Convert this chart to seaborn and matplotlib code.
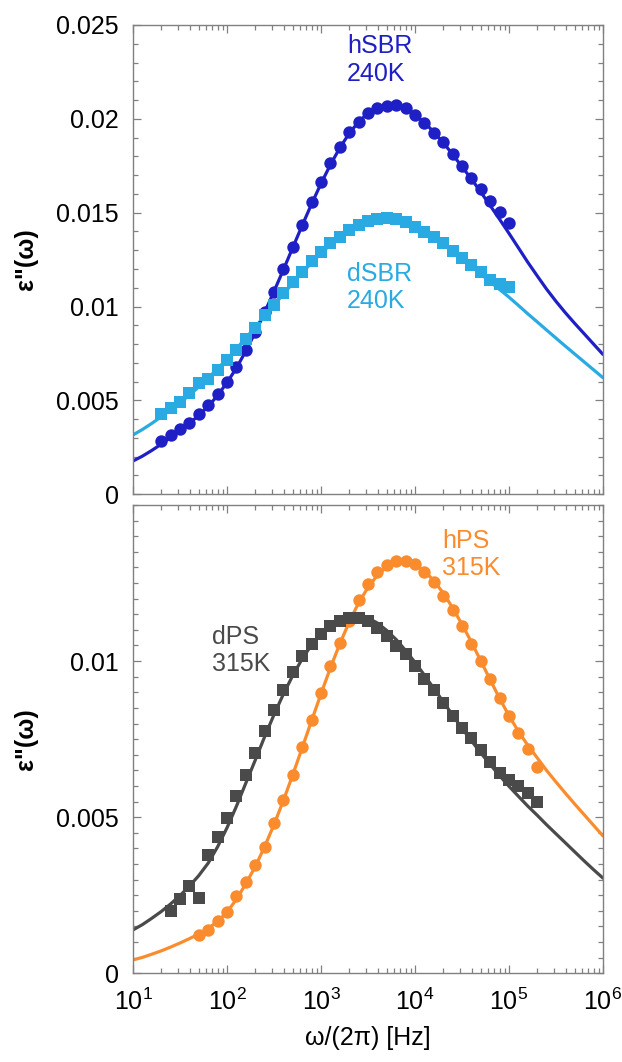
import numpy as np
import pandas as pd
import matplotlib
matplotlib.use("Agg")
import matplotlib.pyplot as plt
import seaborn as sns
from matplotlib.ticker import FixedLocator, LogLocator, NullFormatter, MultipleLocator, LogFormatterSciNotation

# ---------------- data ----------------
freq_fit = [10, 12.6, 15.8, 20.0, 25.1, 31.6, 39.8, 50.1, 63.1, 79.4,
            100, 126, 158, 200, 251, 316, 398, 501, 631, 794,
            1000, 1259, 1585, 1995, 2512, 3162, 3981, 5012, 6310, 7943,
            1.0e4, 1.26e4, 1.58e4, 2.0e4, 2.51e4, 3.16e4, 3.98e4, 5.01e4, 6.31e4, 7.94e4,
            1.0e5, 1.26e5, 1.58e5, 2.0e5, 2.51e5, 3.16e5, 3.98e5, 5.01e5, 6.31e5, 7.94e5,
            1.0e6]

freq_sbr = [20.0, 25.1, 31.6, 39.8, 50.1, 63.1, 79.4,
            100, 126, 158, 200, 251, 316, 398, 501, 631, 794,
            1000, 1259, 1585, 1995, 2512, 3162, 3981, 5012, 6310, 7943,
            1.0e4, 1.26e4, 1.58e4, 2.0e4, 2.51e4, 3.16e4, 3.98e4, 5.01e4, 6.31e4, 7.94e4,
            1.0e5]

hsbr_eps = [0.00286, 0.00316, 0.00345, 0.00382, 0.00426, 0.00476, 0.00533, 0.00600, 0.00678, 0.00769,
            0.00867, 0.00973, 0.01080, 0.01199, 0.01319, 0.01435, 0.01556, 0.01664, 0.01767, 0.01852,
            0.01929, 0.01985, 0.02030, 0.02056, 0.02069, 0.02073, 0.02056, 0.02021, 0.01977, 0.01927,
            0.01874, 0.01813, 0.01751, 0.01687, 0.01625, 0.01563, 0.01506, 0.01447]

dsbr_eps = [0.00426, 0.00458, 0.00494, 0.00538, 0.00594, 0.00614, 0.00662, 0.00716, 0.00769, 0.00826,
            0.00884, 0.00955, 0.01009, 0.01071, 0.01133, 0.01186, 0.01245, 0.01293, 0.01337, 0.01373,
            0.01408, 0.01435, 0.01453, 0.01467, 0.01470, 0.01467, 0.01449, 0.01426, 0.01399, 0.01369,
            0.01337, 0.01298, 0.01257, 0.01222, 0.01186, 0.01142, 0.01121, 0.01103]

hsbr_fit = [0.00177, 0.00203, 0.00233, 0.00267, 0.00302, 0.00339, 0.00378, 0.00420, 0.00468, 0.00526,
            0.00595, 0.00672, 0.00762, 0.00862, 0.00968, 0.01080, 0.01196, 0.01314, 0.01432, 0.01546,
            0.01655, 0.01755, 0.01845, 0.01922, 0.01984, 0.02030, 0.02060, 0.02073, 0.02070, 0.02052,
            0.02022, 0.01981, 0.01930, 0.01873, 0.01811, 0.01745, 0.01680, 0.01610, 0.01538, 0.01465,
            0.01390, 0.01313, 0.01237, 0.01163, 0.01093, 0.01028, 0.00967, 0.00910, 0.00855, 0.00800,
            0.00745]

dsbr_fit = [0.00316, 0.00345, 0.00377, 0.00413, 0.00449, 0.00487, 0.00528, 0.00572, 0.00619, 0.00669,
            0.00720, 0.00775, 0.00832, 0.00890, 0.00950, 0.01008, 0.01066, 0.01124, 0.01180, 0.01233,
            0.01283, 0.01329, 0.01370, 0.01405, 0.01433, 0.01453, 0.01465, 0.01469, 0.01465, 0.01453,
            0.01433, 0.01406, 0.01374, 0.01338, 0.01298, 0.01256, 0.01214, 0.01173, 0.01132, 0.01091,
            0.01050, 0.01006, 0.00962, 0.00918, 0.00875, 0.00832, 0.00789, 0.00747, 0.00705, 0.00663,
            0.00621]

freq_hps = [50.1, 63.1, 79.4,
            100, 126, 158, 200, 251, 316, 398, 501, 631, 794,
            1000, 1259, 1585, 1995, 2512, 3162, 3981, 5012, 6310, 7943,
            1.0e4, 1.26e4, 1.58e4, 2.0e4, 2.51e4, 3.16e4, 3.98e4, 5.01e4, 6.31e4, 7.94e4,
            1.0e5, 1.26e5, 1.58e5, 2.0e5]

hps_eps = [0.00123, 0.00139, 0.00169, 0.00198, 0.00248, 0.00294, 0.00347, 0.00406, 0.00481, 0.00556,
           0.00636, 0.00726, 0.00812, 0.00897, 0.00983, 0.01058, 0.01127, 0.01197, 0.01248, 0.01284,
           0.01309, 0.01322, 0.01319, 0.01311, 0.01284, 0.01252, 0.01209, 0.01165, 0.01111, 0.01056,
           0.00999, 0.00942, 0.00881, 0.00825, 0.00769, 0.00718, 0.00662]

freq_dps = [25.1, 31.6, 39.8, 50.1, 63.1, 79.4,
            100, 126, 158, 200, 251, 316, 398, 501, 631, 794,
            1000, 1259, 1585, 1995, 2512, 3162, 3981, 5012, 6310, 7943,
            1.0e4, 1.26e4, 1.58e4, 2.0e4, 2.51e4, 3.16e4, 3.98e4, 5.01e4, 6.31e4, 7.94e4,
            1.0e5, 1.26e5, 1.58e5, 2.0e5]

dps_eps = [0.00201, 0.00237, 0.00280, 0.00240, 0.00379, 0.00436, 0.00499, 0.00568, 0.00636, 0.00705,
           0.00775, 0.00842, 0.00906, 0.00964, 0.01017, 0.01056, 0.01088, 0.01113, 0.01130, 0.01138,
           0.01138, 0.01130, 0.01106, 0.01081, 0.01049, 0.01022, 0.00983, 0.00942, 0.00908, 0.00865,
           0.00825, 0.00785, 0.00753, 0.00716, 0.00678, 0.00641, 0.00620, 0.00600, 0.00577, 0.00550]

hps_fit = [0.00043, 0.00051, 0.00061, 0.00072, 0.00084, 0.00097, 0.00111, 0.00126, 0.00144, 0.00166,
           0.00196, 0.00237, 0.00286, 0.00342, 0.00405, 0.00476, 0.00553, 0.00636, 0.00722, 0.00809,
           0.00895, 0.00978, 0.01055, 0.01125, 0.01186, 0.01236, 0.01275, 0.01302, 0.01317, 0.01320,
           0.01310, 0.01289, 0.01258, 0.01218, 0.01171, 0.01118, 0.01061, 0.01001, 0.00940, 0.00881,
           0.00825, 0.00775, 0.00731, 0.00690, 0.00650, 0.00613, 0.00577, 0.00542, 0.00508, 0.00474,
           0.00440]

dps_fit = [0.00139, 0.00156, 0.00176, 0.00198, 0.00222, 0.00249, 0.00279, 0.00313, 0.00353, 0.00405,
           0.00466, 0.00535, 0.00608, 0.00683, 0.00757, 0.00828, 0.00894, 0.00954, 0.01007, 0.01052,
           0.01088, 0.01115, 0.01134, 0.01144, 0.01146, 0.01138, 0.01122, 0.01098, 0.01069, 0.01034,
           0.00996, 0.00955, 0.00913, 0.00870, 0.00827, 0.00785, 0.00745, 0.00706, 0.00669, 0.00633,
           0.00599, 0.00567, 0.00536, 0.00506, 0.00476, 0.00447, 0.00418, 0.00389, 0.00360, 0.00332,
           0.00305]

top_yticks = [0, 0.005, 0.01, 0.015, 0.02, 0.025]
top_ylabels = ["0", "0.005", "0.01", "0.015", "0.02", "0.025"]
bot_yticks = [0, 0.005, 0.01]
bot_ylabels = ["0", "0.005", "0.01"]

# ---------------- style ----------------
sns.set_style("ticks")
plt.rcParams['font.family'] = ['Liberation Sans', 'DejaVu Sans']
plt.rcParams['mathtext.fontset'] = 'custom'
plt.rcParams['mathtext.rm'] = 'Liberation Sans'
plt.rcParams['mathtext.it'] = 'Liberation Sans:italic'
plt.rcParams['font.size'] = 18
plt.rcParams['text.color'] = 'black'
plt.rcParams['axes.labelcolor'] = 'black'
plt.rcParams['xtick.labelcolor'] = 'black'
plt.rcParams['ytick.labelcolor'] = 'black'

C_HSBR = "#1f1fc6"
C_DSBR = "#2aaae2"
C_HPS = "#fb8c2e"
C_DPS = "#4a4a4a"
FRAME = "#808080"

fig = plt.figure(figsize=(6.22, 10.62), dpi=100)
ax1 = fig.add_axes([0.2138, 0.5346, 0.7556, 0.4419])
ax2 = fig.add_axes([0.2138, 0.0835, 0.7556, 0.4410])

for ax in (ax1, ax2):
    ax.set_xscale('log')


def draw(ax, fit, pts_f, pts_y, color, marker, size):
    dfl = pd.DataFrame({"f": freq_fit, "e": fit})
    sns.lineplot(data=dfl, x="f", y="e", ax=ax, color=color, lw=2.3,
                 estimator=None, sort=False, zorder=2)
    dfp = pd.DataFrame({"f": pts_f, "e": pts_y})
    sns.scatterplot(data=dfp, x="f", y="e", ax=ax, color=color, marker=marker,
                    s=size, linewidth=0, zorder=3)


draw(ax1, hsbr_fit, freq_sbr, hsbr_eps, C_HSBR, 'o', 80)
draw(ax1, dsbr_fit, freq_sbr, dsbr_eps, C_DSBR, 's', 80)
ax1.lines[1].set_zorder(1.5)

draw(ax2, hps_fit, freq_hps, hps_eps, C_HPS, 'o', 80)
draw(ax2, dps_fit, freq_dps, dps_eps, C_DPS, 's', 80)
ax2.lines[1].set_zorder(1.5)

for ax in (ax1, ax2):
    ax.set_xlim(10, 1e6)
    ax.xaxis.set_major_locator(LogLocator(base=10, numticks=10))
    ax.xaxis.set_minor_locator(LogLocator(base=10, subs=np.arange(2, 10), numticks=20))
    ax.xaxis.set_minor_formatter(NullFormatter())
    for sp in ax.spines.values():
        sp.set_color(FRAME)
        sp.set_linewidth(1.0)
    ax.tick_params(which='both', direction='in', top=True, right=True, color=FRAME,
                   width=0.9, labelcolor='black')
    ax.tick_params(which='major', length=6)
    ax.tick_params(which='minor', length=3.5)
    ax.tick_params(axis='y', which='both', pad=10, labelsize=18)
    ax.tick_params(axis='x', which='both', pad=11, labelsize=18)

ax1.set_ylim(0, 0.025)
ax1.yaxis.set_major_locator(FixedLocator(top_yticks))
ax1.set_yticklabels(top_ylabels)
ax1.yaxis.set_minor_locator(MultipleLocator(0.001))
ax1.tick_params(axis='x', labelbottom=False)
ax1.set_xlabel("")

ax2.set_ylim(0, 0.015)
ax2.yaxis.set_major_locator(FixedLocator(bot_yticks))
ax2.set_yticklabels(bot_ylabels)
ax2.yaxis.set_minor_locator(MultipleLocator(0.0005))
ax2.xaxis.set_major_formatter(LogFormatterSciNotation())
ax2.set_xlabel("ω/(2π) [Hz]", fontsize=18, labelpad=8, color='black')

for ax in (ax1, ax2):
    ax.set_ylabel('ε"(ω)', fontsize=18, fontweight='bold', color='black')
    ax.yaxis.set_label_coords(-0.202, 0.5)

# annotations
ax1.text(0.455, 0.925, "hSBR\n240K", transform=ax1.transAxes, color=C_HSBR,
         fontsize=18, ha='left', va='center', linespacing=1.2)
ax1.text(0.455, 0.44, "dSBR\n240K", transform=ax1.transAxes, color=C_DSBR,
         fontsize=18, ha='left', va='center', linespacing=1.15)
ax2.text(0.168, 0.69, "dPS\n315K", transform=ax2.transAxes, color=C_DPS,
         fontsize=18, ha='left', va='center', linespacing=1.15)
ax2.text(0.657, 0.894, "hPS\n315K", transform=ax2.transAxes, color=C_HPS,
         fontsize=18, ha='left', va='center', linespacing=1.15)

fig.savefig("out.png", dpi=100)
